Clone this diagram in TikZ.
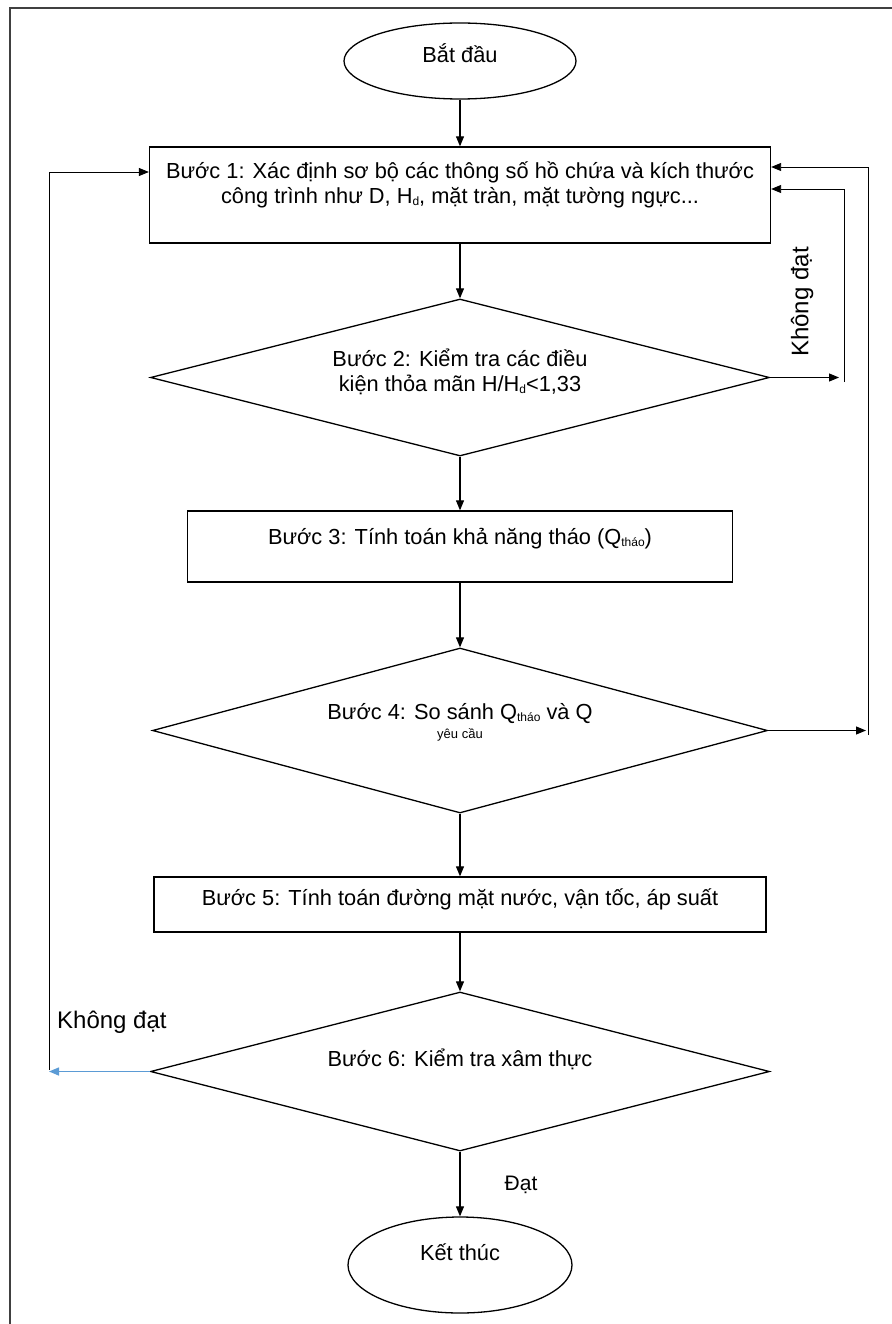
\documentclass[tikz,border=0pt]{standalone}
\usepackage{fontspec}
\setmainfont{Liberation Sans}
\usetikzlibrary{arrows.meta, positioning, shapes.geometric}

\newcommand{\lowtxt}[1]{\raisebox{-2pt}{\fontsize{12}{12}\selectfont #1}}

\begin{document}
\begin{tikzpicture}[x=1pt, y=-1pt, >={Triangle[length=10pt,width=8pt]},
    font=\fontsize{21.8}{25}\selectfont,
    stepbox/.style={draw, line width=1.3pt, rectangle, inner sep=0pt, align=center},
    testbox/.style={draw, line width=1.3pt, diamond, aspect=4, inner sep=0pt, align=center},
    endbox/.style={draw, line width=1.3pt, ellipse, inner sep=0pt},
    arr/.style={->, line width=1.1pt}]
    \useasboundingbox (0,0) rectangle (891,1324);

    % Frame
    \draw[line width=1.5pt, black!75] (10,1340) -- (10,8) -- (900,8);

    % Nodes
    \node[endbox, minimum width=232pt, minimum height=76pt, text height=10pt, text depth=6.6pt] (start) at (460,61) {Bắt đầu};
    \node[stepbox, minimum width=621pt, minimum height=96pt, text height=20pt, text depth=3.4pt] (box1) at (460,195)
        {Bước 1: Xác định sơ bộ các thông số hồ chứa và kích thước\\công trình như D, H\lowtxt{d}, mặt tràn, mặt tường ngực...};
    \node[testbox, minimum width=619pt, minimum height=157pt, text height=30pt, text depth=1.6pt] (d2) at (460,377.5)
        {Bước 2: Kiểm tra các điều\\kiện thỏa mãn H/H\lowtxt{d}<1,33};
    \node[stepbox, minimum width=545pt, minimum height=71pt, text height=8pt, text depth=11.6pt] (box3) at (460,546.5)
        {Bước 3: Tính toán khả năng tháo (Q\lowtxt{tháo})};
    \node[testbox, minimum width=615pt, minimum height=165pt, text height=20pt, text depth=3.6pt] (d4) at (460,730.5)
        {Bước 4: So sánh Q\lowtxt{tháo} và Q\\[-6pt]{\fontsize{13}{13}\selectfont yêu cầu}};
    \node[stepbox, minimum width=612pt, minimum height=55pt, text height=8pt, text depth=5.6pt] (box5) at (460,904.5)
        {Bước 5: Tính toán đường mặt nước, vận tốc, áp suất};
    \node[testbox, minimum width=619pt, minimum height=159pt, text height=5pt, text depth=14.6pt] (d6) at (460,1071.5)
        {Bước 6: Kiểm tra xâm thực};
    \node[endbox, minimum width=224pt, minimum height=96pt, text height=5pt, text depth=13.6pt] (end) at (460,1265) {Kết thúc};

    % Main flow
    \draw[arr] (start) -- (box1);
    \draw[arr] (box1) -- (d2);
    \draw[arr] (d2) -- (box3);
    \draw[arr] (box3) -- (d4);
    \draw[arr] (d4) -- (box5);
    \draw[arr] (box5) -- (d6);
    \draw[arr] (d6) -- (end);

    % Loop back from Buoc 2
    \coordinate (k2) at (839,377.5);
    \coordinate (k2a) at (844,382);
    \coordinate (k2b) at (844,189);
    \draw[arr] (d2.east) -- (k2);
    \draw[arr, line width=0.9pt] (k2a) -- (k2b) -- (box1.east |- k2b);

    % Loop back from Buoc 4
    \coordinate (k4) at (866,730.5);
    \coordinate (k4a) at (868,735);
    \coordinate (k4b) at (868,167);
    \draw[arr] (d4.east) -- (k4);
    \draw[arr, line width=0.9pt] (k4a) -- (k4b) -- (box1.east |- k4b);

    % Loop back from Buoc 6
    \definecolor{loopblue}{RGB}{91,155,213}
    \coordinate (k6) at (49,1071.5);
    \coordinate (k6a) at (49,1070);
    \coordinate (k6b) at (49,172);
    \draw[arr, loopblue, line width=1.4pt] (d6.west) -- (k6);
    \draw[arr, line width=0.9pt] (k6a) -- (k6b) -- (box1.west |- k6b);

    % Labels
    \node[rotate=90, font=\fontsize{24}{24}\selectfont] (fail2) at (802,302) {Không đạt};
    \node[right, inner sep=0pt, font=\fontsize{24}{24}\selectfont] (fail6) at (57,1022) {Không đạt};
    \node[font=\fontsize{21}{21}\selectfont] (pass6) at (521,1185) {Đạt};
\end{tikzpicture}
\end{document}
